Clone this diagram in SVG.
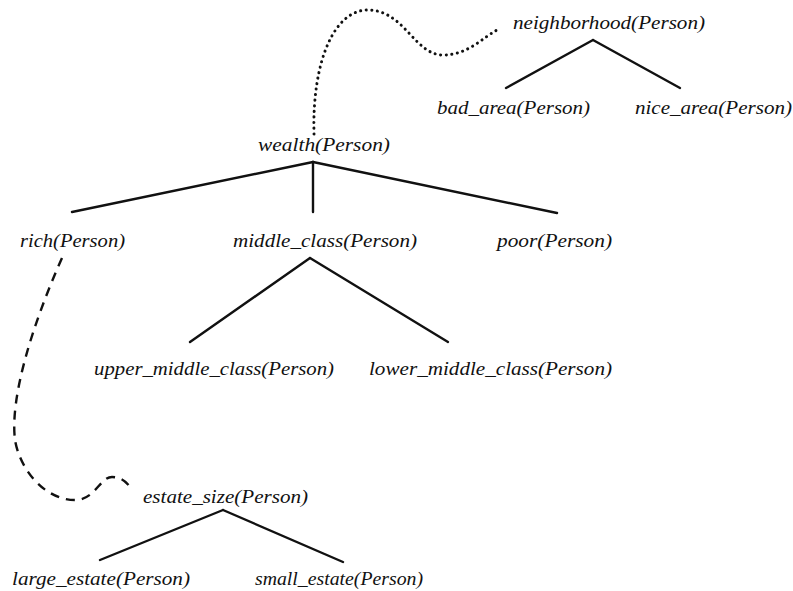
<svg xmlns="http://www.w3.org/2000/svg" width="793" height="591" viewBox="0 0 793 591">
<style>
text{font-family:"Liberation Serif","Times New Roman",serif;font-style:italic;font-size:19px;fill:#111}
.e{stroke:#111;stroke-width:2.4;fill:none;stroke-linecap:round}
.dot{stroke:#111;stroke-width:3;fill:none;stroke-dasharray:0.1 5.5;stroke-linecap:round}
.dash{stroke:#111;stroke-width:2.4;fill:none;stroke-dasharray:9 7}
</style>
<rect width="793" height="591" fill="#fff"/>
<g id="connectors">
<line class="e" x1="593" y1="40" x2="506" y2="88"/>
<line class="e" x1="593" y1="40" x2="680" y2="88"/>
<line class="e" x1="313" y1="162" x2="72" y2="212"/>
<line class="e" x1="313" y1="162" x2="313" y2="212"/>
<line class="e" x1="313" y1="162" x2="557" y2="213"/>
<line class="e" x1="310" y1="258" x2="190" y2="342"/>
<line class="e" x1="310" y1="258" x2="448" y2="342"/>
<line class="e" x1="223" y1="510" x2="100" y2="560"/>
<line class="e" x1="223" y1="510" x2="343" y2="562"/>
<path class="dot" d="M314,134 C312,60 335,8 370,10 C405,12 415,55 443,55 C468,55 482,38 497,30"/>
<path class="dash" d="M62,258 C30,330 10,400 15,440 C20,470 45,500 75,500 C95,500 100,477 112,477 C122,477 127,483 131,488"/>
</g>
<g id="n-neighborhood"><text x="513" y="29" textLength="192" lengthAdjust="spacingAndGlyphs">neighborhood(Person)</text></g>
<g id="n-bad_area"><text x="437" y="114" textLength="153" lengthAdjust="spacingAndGlyphs">bad_area(Person)</text></g>
<g id="n-nice_area"><text x="635" y="114" textLength="157" lengthAdjust="spacingAndGlyphs">nice_area(Person)</text></g>
<g id="n-wealth"><text x="258" y="151" textLength="132" lengthAdjust="spacingAndGlyphs">wealth(Person)</text></g>
<g id="n-rich"><text x="20" y="247" textLength="105" lengthAdjust="spacingAndGlyphs">rich(Person)</text></g>
<g id="n-middle_class"><text x="233" y="247" textLength="184" lengthAdjust="spacingAndGlyphs">middle_class(Person)</text></g>
<g id="n-poor"><text x="497" y="247" textLength="115" lengthAdjust="spacingAndGlyphs">poor(Person)</text></g>
<g id="n-upper_middle_class"><text x="94" y="375" textLength="240" lengthAdjust="spacingAndGlyphs">upper_middle_class(Person)</text></g>
<g id="n-lower_middle_class"><text x="369" y="375" textLength="243" lengthAdjust="spacingAndGlyphs">lower_middle_class(Person)</text></g>
<g id="n-estate_size"><text x="143" y="503" textLength="165" lengthAdjust="spacingAndGlyphs">estate_size(Person)</text></g>
<g id="n-large_estate"><text x="12" y="585" textLength="178" lengthAdjust="spacingAndGlyphs">large_estate(Person)</text></g>
<g id="n-small_estate"><text x="255" y="585" textLength="168" lengthAdjust="spacingAndGlyphs">small_estate(Person)</text></g>
</svg>
